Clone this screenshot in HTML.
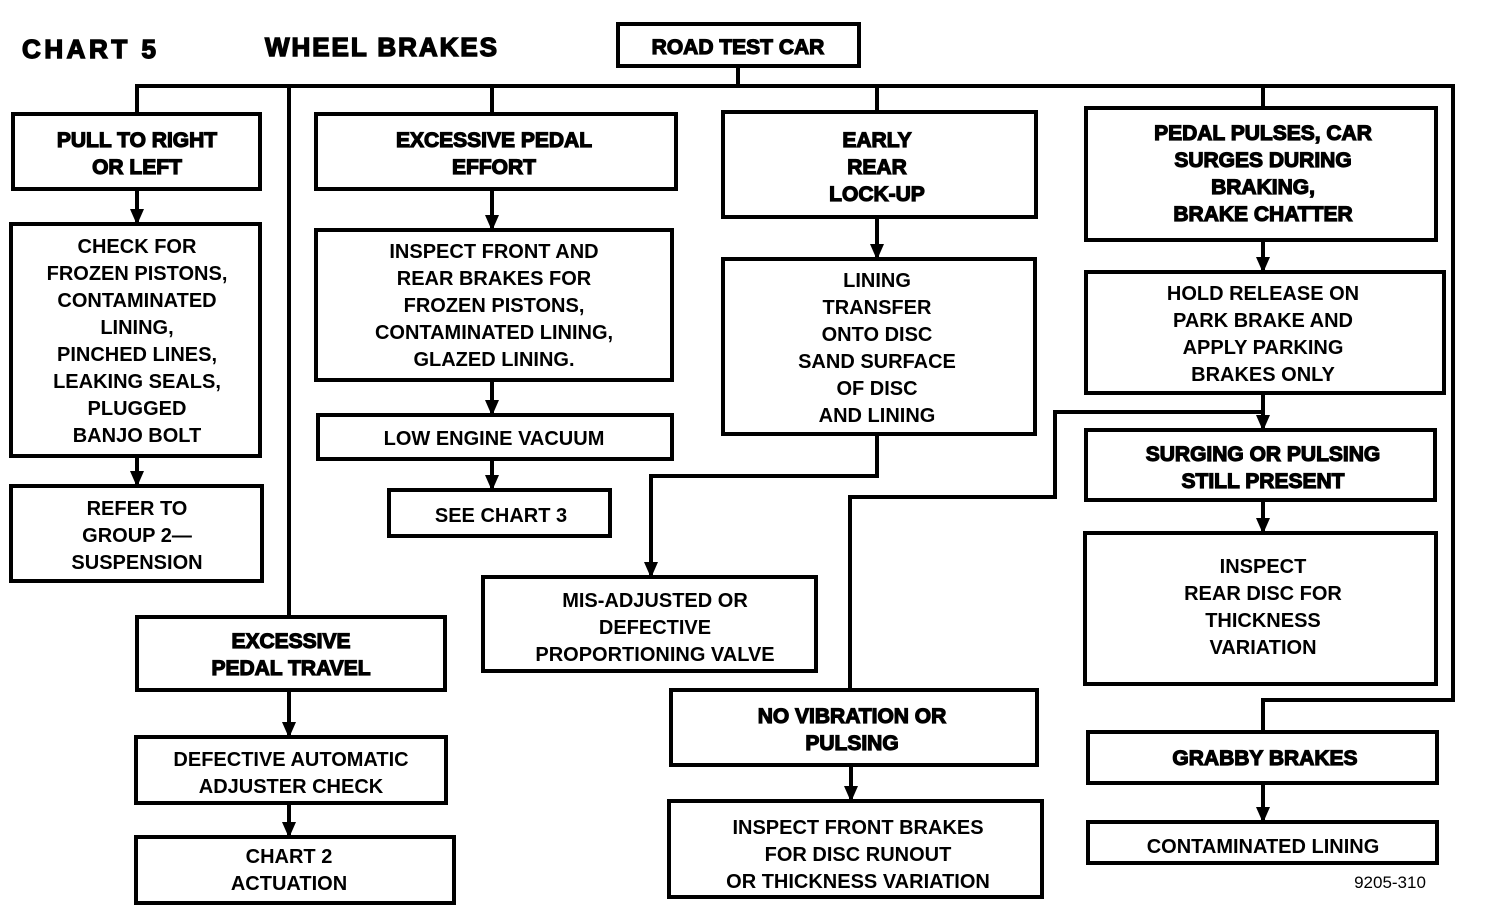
<!DOCTYPE html>
<html><head><meta charset="utf-8"><style>
html,body{margin:0;padding:0;background:#fff;}
svg{display:block;}
text{font-family:"Liberation Sans",sans-serif;font-weight:bold;fill:#000;text-anchor:middle;}
.h{font-size:21px;stroke:#000;stroke-width:1.2px;}
.b{font-size:20px;}
.t{font-size:26px;stroke:#000;stroke-width:1.4px;text-anchor:start;}
rect{fill:none;stroke:#000;stroke-width:4;}
path.l{fill:none;stroke:#000;stroke-width:4;}
</style></head><body>
<svg width="1504" height="920" viewBox="0 0 1504 920" xmlns="http://www.w3.org/2000/svg">
<defs><marker id="a" markerWidth="16" markerHeight="14" refX="15" refY="7" orient="auto" markerUnits="userSpaceOnUse"><path d="M0,0 L16,7 L0,14 z" fill="#000"/></marker></defs>
<text class="t" x="22" y="58" textLength="134">CHART 5</text>
<text class="t" x="265" y="56" textLength="232">WHEEL BRAKES</text>
<!-- boxes -->
<rect x="618" y="24" width="241" height="42"/>
<rect x="13" y="114" width="247" height="75"/>
<rect x="11" y="224" width="249" height="232"/>
<rect x="11" y="486" width="251" height="95"/>
<rect x="316" y="114" width="360" height="75"/>
<rect x="316" y="230" width="356" height="150"/>
<rect x="318" y="415" width="354" height="44"/>
<rect x="389" y="490" width="221" height="46"/>
<rect x="723" y="112" width="313" height="105"/>
<rect x="723" y="259" width="312" height="175"/>
<rect x="483" y="577" width="333" height="94"/>
<rect x="1086" y="108" width="350" height="132"/>
<rect x="1086" y="272" width="358" height="121"/>
<rect x="1086" y="430" width="349" height="70"/>
<rect x="1085" y="533" width="351" height="151"/>
<rect x="137" y="617" width="308" height="73"/>
<rect x="136" y="737" width="310" height="66"/>
<rect x="136" y="837" width="318" height="66"/>
<rect x="671" y="690" width="366" height="75"/>
<rect x="669" y="801" width="373" height="96"/>
<rect x="1088" y="732" width="349" height="51"/>
<rect x="1088" y="822" width="349" height="41"/>
<!-- lines -->
<path class="l" d="M738,66 V86 M137,114 V86 H1453 V700 H1263 V732 M289,86 V617 M492,86 V114 M877,86 V112 M1263,86 V108"/>
<path class="l" d="M877,434 V476 H651 V577" marker-end="url(#a)"/>
<path class="l" d="M1263,412 H1055 V497 H850 V690"/>
<path class="l" d="M137,189 V224" marker-end="url(#a)"/>
<path class="l" d="M137,456 V486" marker-end="url(#a)"/>
<path class="l" d="M492,189 V230" marker-end="url(#a)"/>
<path class="l" d="M492,380 V415" marker-end="url(#a)"/>
<path class="l" d="M492,459 V490" marker-end="url(#a)"/>
<path class="l" d="M877,217 V259" marker-end="url(#a)"/>
<path class="l" d="M1263,240 V272" marker-end="url(#a)"/>
<path class="l" d="M1263,393 V430" marker-end="url(#a)"/>
<path class="l" d="M1263,500 V533" marker-end="url(#a)"/>
<path class="l" d="M289,690 V737" marker-end="url(#a)"/>
<path class="l" d="M289,803 V837" marker-end="url(#a)"/>
<path class="l" d="M851,765 V801" marker-end="url(#a)"/>
<path class="l" d="M1263,783 V822" marker-end="url(#a)"/>
<!-- texts -->
<text class="h" x="738" y="54">ROAD TEST CAR</text>
<text class="h" x="137" y="147">PULL TO RIGHT</text>
<text class="h" x="137" y="174">OR LEFT</text>
<text class="b" x="137" y="253">CHECK FOR</text>
<text class="b" x="137" y="280">FROZEN PISTONS,</text>
<text class="b" x="137" y="307">CONTAMINATED</text>
<text class="b" x="137" y="334">LINING,</text>
<text class="b" x="137" y="361">PINCHED LINES,</text>
<text class="b" x="137" y="388">LEAKING SEALS,</text>
<text class="b" x="137" y="415">PLUGGED</text>
<text class="b" x="137" y="442">BANJO BOLT</text>
<text class="b" x="137" y="515">REFER TO</text>
<text class="b" x="137" y="542">GROUP 2—</text>
<text class="b" x="137" y="569">SUSPENSION</text>
<text class="h" x="494" y="147">EXCESSIVE PEDAL</text>
<text class="h" x="494" y="174">EFFORT</text>
<text class="b" x="494" y="258">INSPECT FRONT AND</text>
<text class="b" x="494" y="285">REAR BRAKES FOR</text>
<text class="b" x="494" y="312">FROZEN PISTONS,</text>
<text class="b" x="494" y="339">CONTAMINATED LINING,</text>
<text class="b" x="494" y="366">GLAZED LINING.</text>
<text class="b" x="494" y="445">LOW ENGINE VACUUM</text>
<text class="b" x="501" y="522">SEE CHART 3</text>
<text class="h" x="877" y="147">EARLY</text>
<text class="h" x="877" y="174">REAR</text>
<text class="h" x="877" y="201">LOCK-UP</text>
<text class="b" x="877" y="287">LINING</text>
<text class="b" x="877" y="314">TRANSFER</text>
<text class="b" x="877" y="341">ONTO DISC</text>
<text class="b" x="877" y="368">SAND SURFACE</text>
<text class="b" x="877" y="395">OF DISC</text>
<text class="b" x="877" y="422">AND LINING</text>
<text class="b" x="655" y="607">MIS-ADJUSTED OR</text>
<text class="b" x="655" y="634">DEFECTIVE</text>
<text class="b" x="655" y="661">PROPORTIONING VALVE</text>
<text class="h" x="1263" y="140">PEDAL PULSES, CAR</text>
<text class="h" x="1263" y="167">SURGES DURING</text>
<text class="h" x="1263" y="194">BRAKING,</text>
<text class="h" x="1263" y="221">BRAKE CHATTER</text>
<text class="b" x="1263" y="300">HOLD RELEASE ON</text>
<text class="b" x="1263" y="327">PARK BRAKE AND</text>
<text class="b" x="1263" y="354">APPLY PARKING</text>
<text class="b" x="1263" y="381">BRAKES ONLY</text>
<text class="h" x="1263" y="461">SURGING OR PULSING</text>
<text class="h" x="1263" y="488">STILL PRESENT</text>
<text class="b" x="1263" y="573">INSPECT</text>
<text class="b" x="1263" y="600">REAR DISC FOR</text>
<text class="b" x="1263" y="627">THICKNESS</text>
<text class="b" x="1263" y="654">VARIATION</text>
<text class="h" x="291" y="648">EXCESSIVE</text>
<text class="h" x="291" y="675">PEDAL TRAVEL</text>
<text class="b" x="291" y="766">DEFECTIVE AUTOMATIC</text>
<text class="b" x="291" y="793">ADJUSTER CHECK</text>
<text class="b" x="289" y="863">CHART 2</text>
<text class="b" x="289" y="890">ACTUATION</text>
<text class="h" x="852" y="723">NO VIBRATION OR</text>
<text class="h" x="852" y="750">PULSING</text>
<text class="b" x="858" y="834">INSPECT FRONT BRAKES</text>
<text class="b" x="858" y="861">FOR DISC RUNOUT</text>
<text class="b" x="858" y="888">OR THICKNESS VARIATION</text>
<text class="h" x="1265" y="765">GRABBY BRAKES</text>
<text class="b" x="1263" y="853">CONTAMINATED LINING</text>
<text style="font-size:17px;font-weight:normal" x="1390" y="888">9205-310</text>
</svg>
</body></html>
